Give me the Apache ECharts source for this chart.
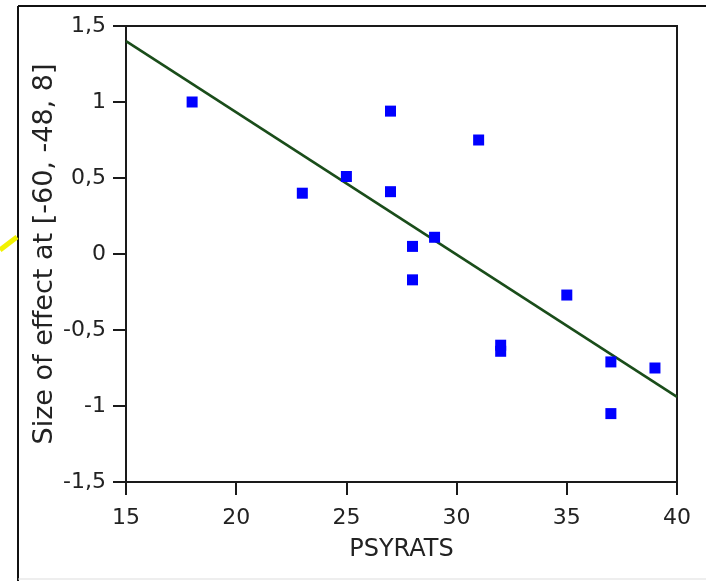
<!DOCTYPE html>
<html>
<head>
<meta charset="utf-8">
<script src="https://cdn.jsdelivr.net/npm/echarts@6/dist/echarts.min.js"></script>
<style>
html,body{margin:0;padding:0;background:#fff;}
#chart{width:706px;height:581px;}
</style>
</head>
<body>
<div id="chart"></div>
<script>
// PSYRATS score vs size of effect
var psyrats = [18, 23, 25, 27, 27, 28, 28, 29, 31, 32, 32, 35, 37, 37, 39];
var effect  = [1.0, 0.40, 0.51, 0.94, 0.41, 0.05, -0.17, 0.11, 0.75, -0.60, -0.64, -0.27, -0.71, -1.05, -0.75];
// regression line end points
var fitX = [15, 40];
var fitY = [1.40, -0.94];
var xTicks = [15, 20, 25, 30, 35, 40];
var yTicks = [-1.5, -1, -0.5, 0, 0.5, 1, 1.5];
var xName = 'PSYRATS';
var yName = 'Size of effect at [-60, -48, 8]';

var chart = echarts.init(document.getElementById('chart'), null, {renderer: 'canvas'});
var pts = psyrats.map(function (x, i) { return [x, effect[i]]; });
var fit = fitX.map(function (x, i) { return [x, fitY[i]]; });
var font = 'DejaVu Sans';
function fmt(v) { return String(v).replace('.', ','); }

chart.setOption({
  animation: false,
  backgroundColor: '#fff',
  grid: {left: 126, right: 29, top: 26, bottom: 99, show: true, borderColor: '#1a1a1a', borderWidth: 2, backgroundColor: 'transparent'},
  xAxis: {
    type: 'value', min: xTicks[0], max: xTicks[xTicks.length - 1], interval: 5,
    name: xName, nameLocation: 'middle', nameGap: 56, nameMoveOverlap: false,
    nameTextStyle: {fontFamily: font, fontSize: 24, color: '#222'},
    axisLine: {show: true, onZero: false, lineStyle: {color: '#1a1a1a', width: 2}},
    axisTick: {show: true, inside: false, length: 13, lineStyle: {color: '#1a1a1a', width: 2}},
    axisLabel: {margin: 25, fontFamily: font, fontSize: 22, color: '#222', formatter: fmt},
    splitLine: {show: false}
  },
  yAxis: {
    type: 'value', min: yTicks[0], max: yTicks[yTicks.length - 1], interval: 0.5,
    name: yName, nameLocation: 'middle', nameGap: 68, nameRotate: 90, nameMoveOverlap: false,
    nameTextStyle: {fontFamily: font, fontSize: 27, color: '#222'},
    axisLine: {show: true, onZero: false, lineStyle: {color: '#1a1a1a', width: 2}},
    axisTick: {show: true, inside: false, length: 13, lineStyle: {color: '#1a1a1a', width: 2}},
    axisLabel: {margin: 20, fontFamily: font, fontSize: 22, color: '#222', formatter: fmt},
    splitLine: {show: false}
  },
  graphic: [
    {type: 'line', shape: {x1: 18, y1: 6, x2: 18, y2: 581}, style: {stroke: '#111', lineWidth: 2}},
    {type: 'line', shape: {x1: 18, y1: 6, x2: 706, y2: 6}, style: {stroke: '#111', lineWidth: 2}},
    {type: 'line', shape: {x1: 18, y1: 579, x2: 706, y2: 579}, style: {stroke: '#ddd', lineWidth: 1}},
    {type: 'line', shape: {x1: 0, y1: 250, x2: 17, y2: 237}, style: {stroke: '#f2f200', lineWidth: 5}}
  ],
  series: [
    {
      type: 'line', data: fit, symbol: 'none', z: 2,
      lineStyle: {color: '#1a4d1a', width: 2.6}
    },
    {
      type: 'scatter', data: pts, symbol: 'rect', symbolSize: 11, z: 3,
      itemStyle: {color: '#0000ff', opacity: 1}
    }
  ]
});
</script>
</body>
</html>
